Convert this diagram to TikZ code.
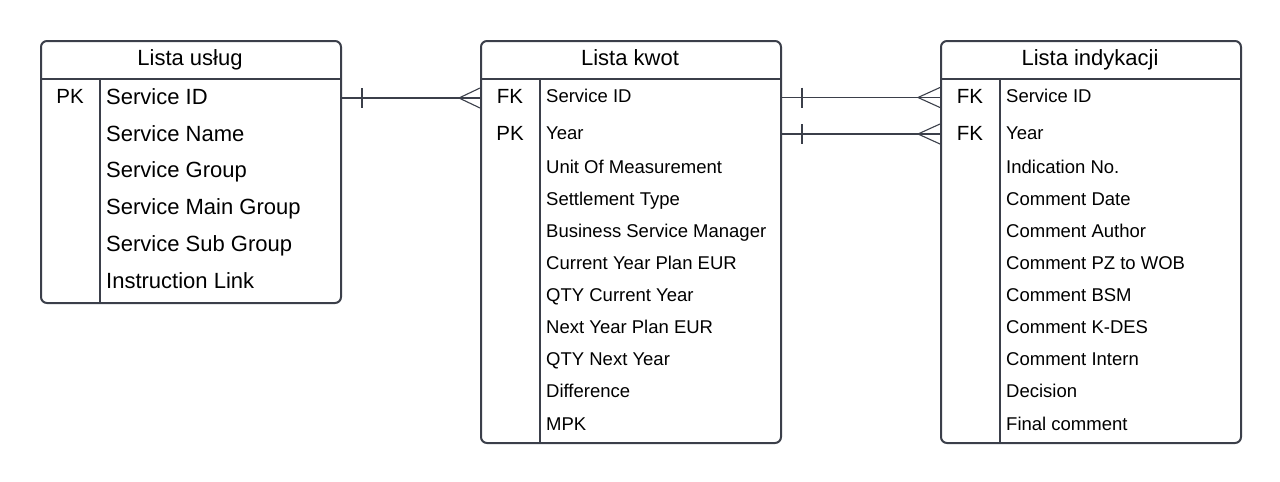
\documentclass[tikz,border=0pt]{standalone}
\usepackage{fontspec}
\setmainfont{Liberation Sans}
\definecolor{bord}{HTML}{3B3F4A}
\begin{document}
\begin{tikzpicture}[x=1pt,y=-1pt,
  tbl/.style={draw=bord, line width=2pt, rounded corners=6pt, minimum width=300pt, inner sep=0pt, anchor=north west},
  ttl/.style={font=\fontsize{22}{26}\selectfont, anchor=base, inner sep=0pt},
  keyl/.style={font=\fontsize{20.5}{24}\selectfont, anchor=base, inner sep=0pt},
  bigattr/.style={font=\fontsize{22}{26}\selectfont, anchor=base west, inner sep=0pt},
  smallattr/.style={font=\fontsize{18.5}{22}\selectfont, anchor=base west, inner sep=0pt},
  sepline/.style={draw=bord, line width=2pt},
  rel/.style={draw=bord, line width=1.1pt}]
\useasboundingbox (0,0) rectangle (1280,482);

% ---------- Table 1 ----------
\node[tbl, minimum height=262pt] (t1) at (40,40) {};
\draw[sepline] (t1.west |- 0,79) -- (t1.east |- 0,79);
\draw[sepline] (100,79) -- (t1.south -| 100,0);
\node[ttl] (t1t) at (190,65.3) {Lista usług};
\node[keyl] (k1) at (70,103.8) {PK};
\node[bigattr] (a11) at (106,104.3) {Service ID};
\node[bigattr] (a12) at (106,141.1) {Service Name};
\node[bigattr] (a13) at (106,177.9) {Service Group};
\node[bigattr] (a14) at (106,214.7) {Service Main Group};
\node[bigattr] (a15) at (106,251.5) {Service Sub Group};
\node[bigattr] (a16) at (106,288.3) {Instruction Link};

% ---------- Table 2 ----------
\node[tbl, minimum height=402pt] (t2) at (480,40) {};
\draw[sepline] (t2.west |- 0,79) -- (t2.east |- 0,79);
\draw[sepline] (540,79) -- (t2.south -| 540,0);
\node[ttl] (t2t) at (630,65.3) {Lista kwot};
\node[keyl] (k21) at (510,103.5) {FK};
\node[keyl] (k22) at (510,140.3) {PK};
\node[smallattr] (a21) at (546,102.7) {Service ID};
\node[smallattr] (a22) at (546,139.5) {Year};
\node[smallattr] (a23) at (546,173.5) {Unit Of Measurement};
\node[smallattr] (a24) at (546,205.6) {Settlement Type};
\node[smallattr] (a25) at (546,237.7) {Business Service Manager};
\node[smallattr] (a26) at (546,269.7) {Current Year Plan EUR};
\node[smallattr] (a27) at (546,301.8) {QTY Current Year};
\node[smallattr] (a28) at (546,333.8) {Next Year Plan EUR};
\node[smallattr] (a29) at (546,365.9) {QTY Next Year};
\node[smallattr] (a210) at (546,397.9) {Difference};
\node[smallattr] (a211) at (546,430) {MPK};

% ---------- Table 3 ----------
\node[tbl, minimum height=402pt] (t3) at (940,40) {};
\draw[sepline] (t3.west |- 0,79) -- (t3.east |- 0,79);
\draw[sepline] (1000,79) -- (t3.south -| 1000,0);
\node[ttl] (t3t) at (1090,65.3) {Lista indykacji};
\node[keyl] (k31) at (970,103.5) {FK};
\node[keyl] (k32) at (970,140.3) {FK};
\node[smallattr] (a31) at (1006,102.7) {Service ID};
\node[smallattr] (a32) at (1006,139.5) {Year};
\node[smallattr] (a33) at (1006,173.5) {Indication No.};
\node[smallattr] (a34) at (1006,205.6) {Comment Date};
\node[smallattr] (a35) at (1006,237.7) {Comment Author};
\node[smallattr] (a36) at (1006,269.7) {Comment PZ to WOB};
\node[smallattr] (a37) at (1006,301.8) {Comment BSM};
\node[smallattr] (a38) at (1006,333.8) {Comment K-DES};
\node[smallattr] (a39) at (1006,365.9) {Comment Intern};
\node[smallattr] (a310) at (1006,397.9) {Decision};
\node[smallattr] (a311) at (1006,430) {Final comment};

% ---------- Relations ----------
% t1 -> t2 (Service ID)
\draw[rel] (t1.east |- 0,98) -- (t2.west |- 0,98);
\draw[rel] (362,88) -- (362,108);
\draw[rel] (t2.west |- 0,88) -- (459,98) -- (t2.west |- 0,108);
% t2 -> t3 (Service ID)
\draw[rel] (t2.east |- 0,97.5) -- (t3.west |- 0,97.5);
\draw[rel] (802,87.5) -- (802,107.5);
\draw[rel] (t3.west |- 0,87.5) -- (918,97.5) -- (t3.west |- 0,107.5);
% t2 -> t3 (Year)
\draw[rel] (t2.east |- 0,134) -- (t3.west |- 0,134);
\draw[rel] (802,124) -- (802,144);
\draw[rel] (t3.west |- 0,124) -- (918,134) -- (t3.west |- 0,144);
\end{tikzpicture}
\end{document}
